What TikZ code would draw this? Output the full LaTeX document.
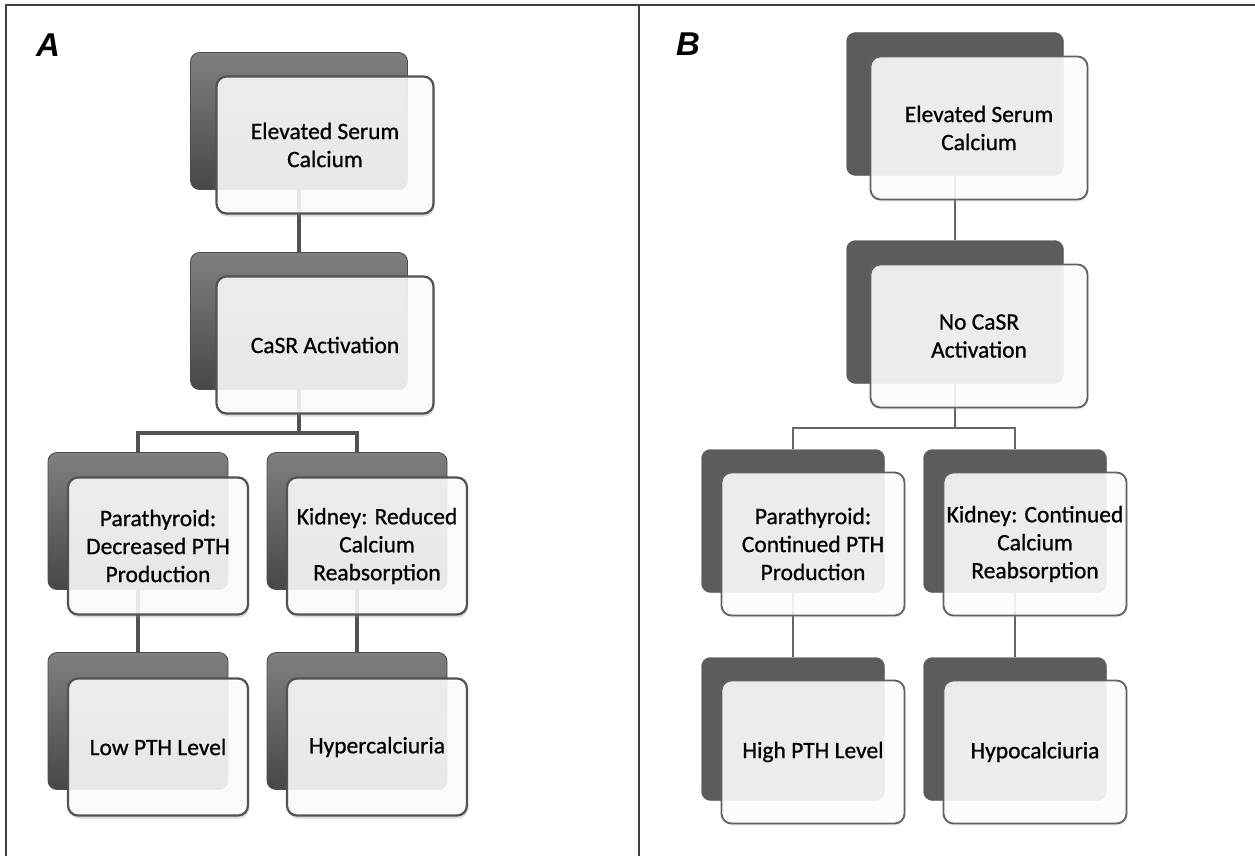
\documentclass[tikz,border=0pt]{standalone}
\usepackage{fontspec}
\setmainfont{Carlito}
\newfontfamily\boxfont{Carlito}[FakeBold=0.7]
\newfontfamily\panelfont{Liberation Sans}
\usetikzlibrary{shadows}

\begin{document}
\begin{tikzpicture}[x=1pt,y=-1pt]
		\tikzstyle{every node}+=[inner sep=0pt, align=center, font=\boxfont\fontsize{23.5}{28}\selectfont]
		\tikzstyle{backA}=[rounded corners=9pt, top color=black!50, bottom color=black!72, draw=black!70, line width=0.8pt]
		\tikzstyle{backB}=[rounded corners=9pt, fill=black!64, draw=black!64]
		\tikzstyle{frontA}=[rounded corners=10pt, fill=white, fill opacity=0.86, text opacity=1, draw=black!68, line width=2.2pt, drop shadow={shadow xshift=1pt, shadow yshift=-3pt, opacity=0.3, fill=black!45}]
		\tikzstyle{frontB}=[rounded corners=10pt, fill=white, fill opacity=0.88, text opacity=1, draw=black!62, line width=1.8pt, drop shadow={shadow xshift=1pt, shadow yshift=-2pt, opacity=0.2, fill=black!40}]
		\tikzstyle{wideA}=[minimum width=217pt, minimum height=137pt]
		\tikzstyle{narrowA}=[minimum width=180pt, minimum height=137pt]
		\tikzstyle{wideB}=[minimum width=217pt, minimum height=143pt]
		\tikzstyle{narrowB}=[minimum width=183pt, minimum height=143pt]
		\tikzstyle{linkA}=[draw=black!68, line width=3.6pt]
		\tikzstyle{linkB}=[draw=black!60, line width=1.8pt]
		\tikzstyle{frame}=[draw=black!75, line width=1.8pt]
		\tikzstyle{panel}=[font=\panelfont\bfseries\itshape\fontsize{33}{35}\selectfont]
		\useasboundingbox (0,0) rectangle (1255,856);
		\draw [frame] (6,856) -- (6,5) -- (1255,5);
		\draw [frame] (639,5) -- (639,856);
		\node [panel] (labA) at (48,45) {A};
		\node [panel] (labB) at (688,44) {B};
		\node [backA, wideA] (a1b) at (299,121) {};
		\node [backA, wideA] (a2b) at (299,321) {};
		\node [backA, narrowA] (a3b) at (138,521) {};
		\node [backA, narrowA] (a4b) at (357,521) {};
		\node [backA, narrowA] (a5b) at (138,721) {};
		\node [backA, narrowA] (a6b) at (357,721) {};
		\coordinate (abus) at (299,433);
		\draw [linkA] (a1b.south) -- (a2b.north);
		\draw [linkA] (a2b.south) -- (abus);
		\draw [linkA] (a3b.north) |- (abus) -| (a4b.north);
		\draw [linkA] (a3b.south) -- (a5b.north);
		\draw [linkA] (a4b.south) -- (a6b.north);
		\node [frontA, wideA] (a1) at (325,145) {Elevated Serum\\Calcium};
		\node [frontA, wideA] (a2) at (325,345) {CaSR Activation};
		\node [frontA, narrowA] (a3) at (158,546) {Parathyroid:\\Decreased PTH\\Production};
		\node [frontA, narrowA] (a4) at (377,546) {Kidney: Reduced\\Calcium\\Reabsorption};
		\node [frontA, narrowA] (a5) at (158,747) {Low PTH Level};
		\node [frontA, narrowA] (a6) at (377,747) {Hypercalciuria};
		\node [backB, wideB] (b1b) at (955,104) {};
		\node [backB, wideB] (b2b) at (955,312) {};
		\node [backB, narrowB] (b3b) at (793,521) {};
		\node [backB, narrowB] (b4b) at (1015,521) {};
		\node [backB, narrowB] (b5b) at (793,729) {};
		\node [backB, narrowB] (b6b) at (1015,729) {};
		\coordinate (bbus) at (955,428);
		\draw [linkB] (b1b.south) -- (b2b.north);
		\draw [linkB] (b2b.south) -- (bbus);
		\draw [linkB] (b3b.north) |- (bbus) -| (b4b.north);
		\draw [linkB] (b3b.south) -- (b5b.north);
		\draw [linkB] (b4b.south) -- (b6b.north);
		\node [frontB, wideB] (b1) at (979,128) {Elevated Serum\\Calcium};
		\node [frontB, wideB] (b2) at (979,336) {No CaSR\\Activation};
		\node [frontB, narrowB] (b3) at (813,544) {Parathyroid:\\Continued PTH\\Production};
		\node [frontB, narrowB] (b4) at (1035,544) {Kidney: Continued\\Calcium\\Reabsorption};
		\node [frontB, narrowB] (b5) at (813,752) {High PTH Level};
		\node [frontB, narrowB] (b6) at (1035,752) {Hypocalciuria};
\end{tikzpicture}
\end{document}
